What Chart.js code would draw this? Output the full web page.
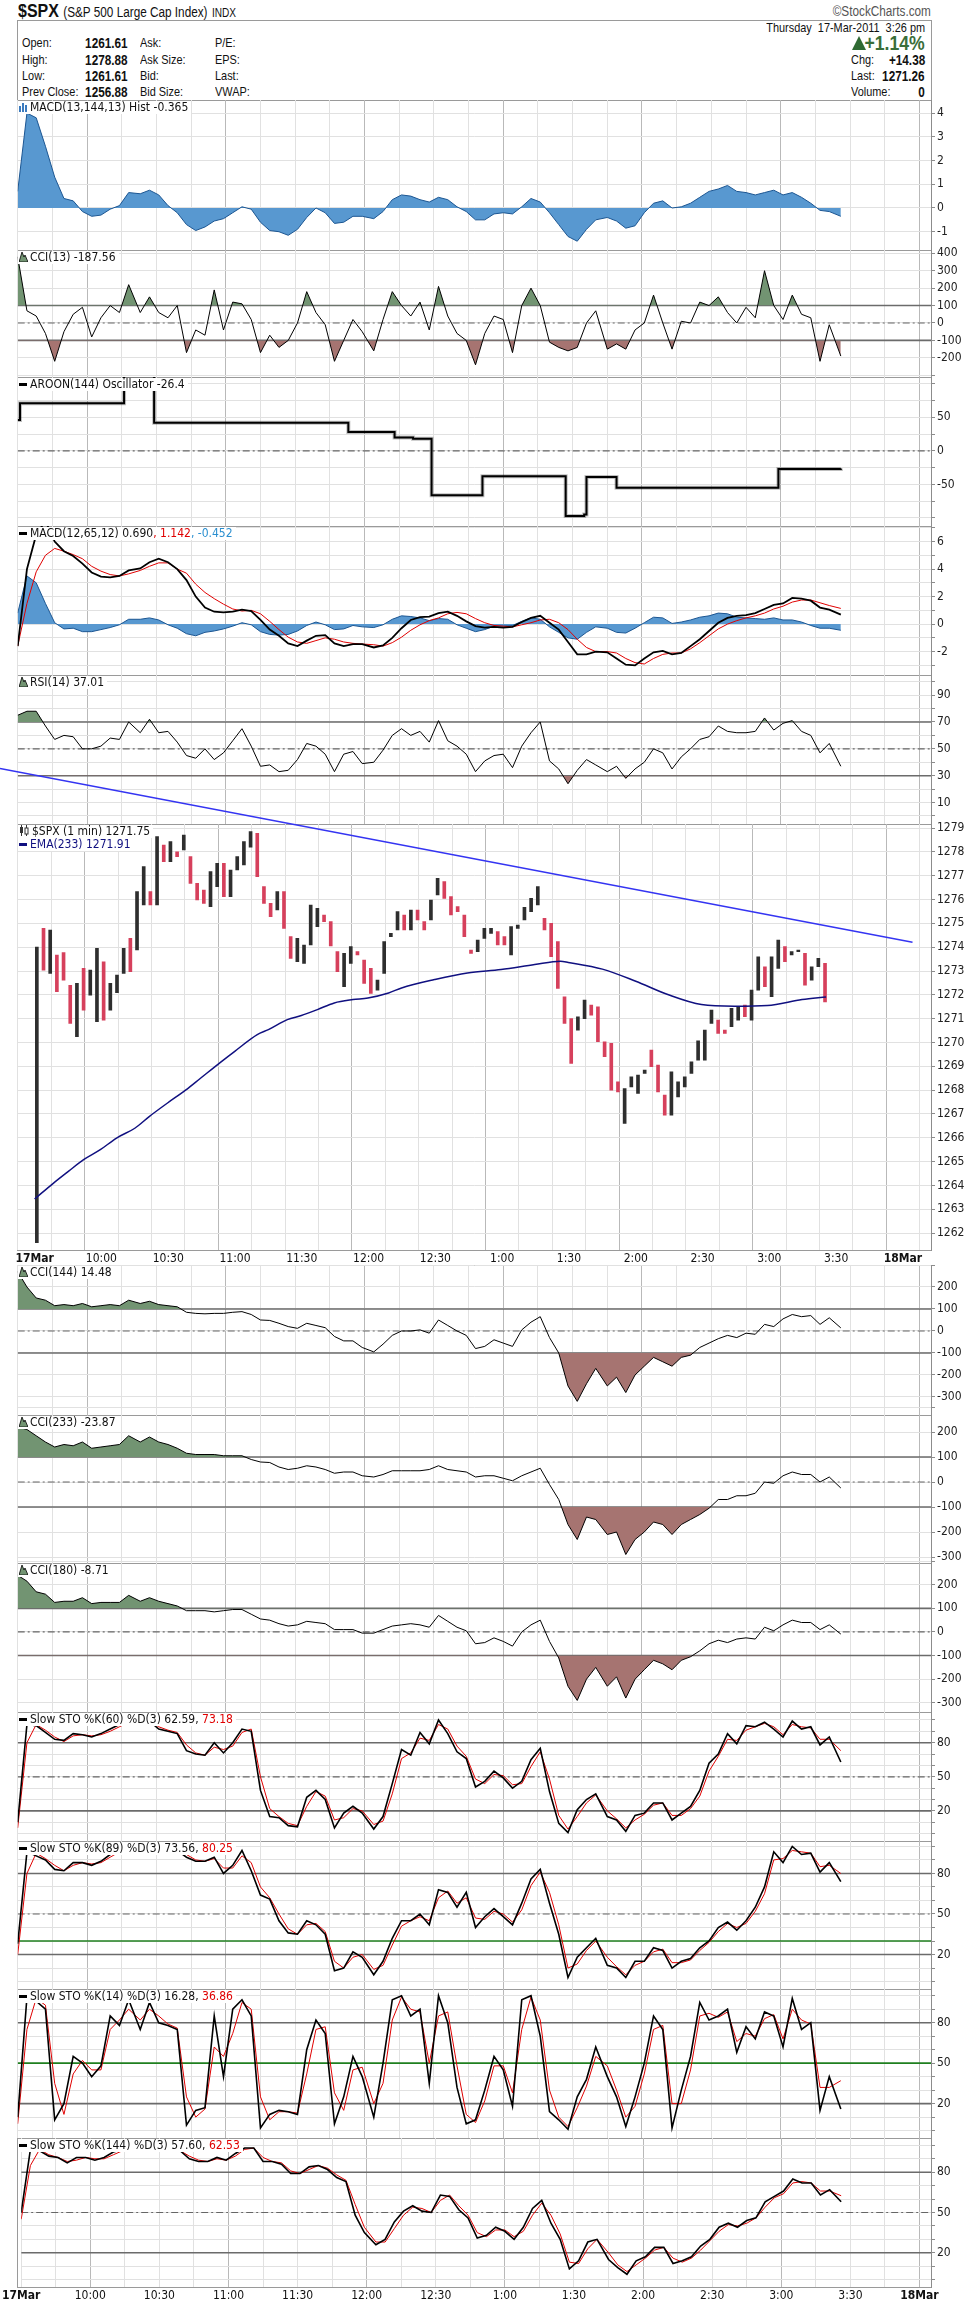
<!DOCTYPE html>
<html>
<head>
<meta charset="utf-8">
<script src="https://cdn.jsdelivr.net/npm/chart.js@4.4.1/dist/chart.umd.min.js"></script>
<style>
  body { margin:0; background:#fff; }
  #page { position:relative; width:975px; height:2306px; overflow:hidden; background:#fff;
          font-family:"DejaVu Sans Condensed",sans-serif; color:#111; }
  .frame { position:absolute; left:17px; width:915px; border:1px solid #9a9a9a; box-sizing:border-box; }
  canvas { position:absolute; left:0; }
  .t { position:absolute; white-space:nowrap; font-family:"Liberation Sans",Arial,sans-serif; font-size:13px; line-height:16px;
       transform:scaleX(0.84); transform-origin:left center; }
  .r { transform-origin:right center; }
  .v { font-weight:bold; font-size:14px; }
  .lbl { position:absolute; left:18px; font-size:12px; line-height:13px; background:#fff; padding:0 3px 0 1px; white-space:nowrap; }
  .dash { display:inline-block; width:8px; height:3px; background:#000; vertical-align:middle; margin-right:3px; }
  svg { vertical-align:-1px; margin-right:2px; }
</style>
</head>
<body>
<div id="page">
  <div class="t" style="left:18px;top:0px;font-size:19px;line-height:22px;font-weight:bold;">$SPX <span style="font-size:14px;font-weight:normal">(S&amp;P 500 Large Cap Index)</span> <span style="font-size:12px;font-weight:normal">INDX</span></div>
  <div class="t r" style="right:44px;top:3px;font-size:14px;color:#555">©StockCharts.com</div>
  <div class="frame" style="top:20px;height:81px"></div>

  <div class="t" style="left:22px;top:35px">Open:</div>
  <div class="t v r" style="right:847px;top:35px">1261.61</div>
  <div class="t" style="left:140px;top:35px">Ask:</div>
  <div class="t" style="left:215px;top:35px">P/E:</div>
  <div class="t" style="left:22px;top:52px">High:</div>
  <div class="t v r" style="right:847px;top:52px">1278.88</div>
  <div class="t" style="left:140px;top:52px">Ask Size:</div>
  <div class="t" style="left:215px;top:52px">EPS:</div>
  <div class="t" style="left:22px;top:68px">Low:</div>
  <div class="t v r" style="right:847px;top:68px">1261.61</div>
  <div class="t" style="left:140px;top:68px">Bid:</div>
  <div class="t" style="left:215px;top:68px">Last:</div>
  <div class="t" style="left:22px;top:84px">Prev Close:</div>
  <div class="t v r" style="right:847px;top:84px">1256.88</div>
  <div class="t" style="left:140px;top:84px">Bid Size:</div>
  <div class="t" style="left:215px;top:84px">VWAP:</div>

  <div class="t r" style="right:50px;top:20px">Thursday&nbsp; 17-Mar-2011&nbsp; 3:26 pm</div>
  <svg style="position:absolute;left:852px;top:36px" width="14" height="14"><polygon points="7,0 14,14 0,14" fill="#2f6a33"/></svg>
  <div class="t r" style="right:50px;top:32px;font-size:21px;line-height:22px;font-weight:bold;color:#3a6e3a">+1.14%</div>
  <div class="t" style="left:851px;top:52px">Chg:</div>
  <div class="t v r" style="right:50px;top:52px">+14.38</div>
  <div class="t" style="left:851px;top:68px">Last:</div>
  <div class="t v r" style="right:50px;top:68px">1271.26</div>
  <div class="t" style="left:851px;top:84px">Volume:</div>
  <div class="t v r" style="right:50px;top:84px">0</div>
</div>
<script>
// ---- time grid (minutes after 9:30) used by the oscillator panels ----
const tm = [0,4,8,12,16,20,24,28,32,36,40,44,48,53,57,61,65,69,73,77,81,85,89,93,97,101,105,109,113,117,
  121,125,129,133,137,141,145,149,154,158,162,166,170,174,178,182,186,190,194,198,202,206,210,214,218,222,226,230,234,238,
  242,246,250,255,259,263,267,271,275,279,283,287,291,295,299,303,307,311,315,319,323,327,331,335,339,343,347,351,356];

// MACD(13,144,13) histogram
const histV = [0.7,4.0,3.8,2.6,1.3,0.4,0.3,-0.15,-0.35,-0.3,
  -0.05,0.1,0.65,0.6,0.75,0.55,0.1,-0.2,-0.7,-0.95,
  -0.8,-0.55,-0.45,-0.2,0.05,-0.05,-0.6,-0.95,-1.0,-1.15,
  -0.9,-0.4,0.0,-0.2,-0.65,-0.6,-0.35,-0.35,-0.45,-0.15,
  0.35,0.55,0.5,0.35,0.25,0.45,0.35,0.05,-0.15,-0.5,
  -0.5,-0.25,-0.2,-0.25,0.05,0.4,0.25,-0.2,-0.7,-1.2,
  -1.4,-0.9,-0.5,-0.4,-0.55,-0.85,-0.75,-0.2,0.2,0.3,
  0.0,0.05,0.2,0.45,0.7,0.8,0.95,0.7,0.65,0.55,
  0.65,0.75,0.55,0.65,0.45,0.2,-0.1,-0.15,-0.35];

// CCI(13)
const cci13V = [380,70,40,-60,-220,-50,50,90,-80,30,
  100,60,220,60,150,60,30,100,-170,-40,
  -70,190,-40,120,110,20,-170,-70,-140,-100,
  0,180,60,-10,-220,-100,20,-50,-160,20,
  180,100,40,120,-40,210,40,-60,-100,-240,
  -60,40,20,-170,100,200,100,-110,-140,-160,
  -140,0,70,-150,-120,-150,-40,0,160,0,
  -150,10,0,120,100,150,60,0,90,30,
  300,100,20,160,50,30,-220,-10,-190];

// AROON(144) oscillator (step changes)
const aroonT = [0,1,46,59,143,163,171,179,201,237,245,246,259,329,356];
const aroonV = [46,71,112,42,28,20,18,-66,-38,-97,-95,-39,-55,-27,-26.4];

// MACD(12,65,12)
const macdV = [-1.6,4.0,6.5,7.5,6.0,5.3,4.95,4.4,3.75,3.45,
  3.4,3.5,3.9,4.05,4.5,4.75,4.5,4.0,3.2,2.0,
  1.2,0.9,0.85,0.9,1.05,0.95,0.3,-0.4,-0.85,-1.4,
  -1.6,-1.2,-0.85,-0.8,-1.4,-1.6,-1.45,-1.45,-1.7,-1.55,
  -1.0,-0.3,0.3,0.5,0.55,0.8,0.9,0.6,0.2,-0.15,
  -0.25,-0.2,-0.25,-0.2,0.15,0.45,0.6,0.1,-0.4,-1.3,
  -2.2,-2.2,-2.0,-2.05,-2.5,-2.95,-3.0,-2.5,-2.05,-1.95,
  -2.2,-2.1,-1.6,-1.1,-0.5,0.1,0.45,0.6,0.65,0.8,
  1.1,1.4,1.5,1.9,1.85,1.7,1.2,1.05,0.69];
const signalV = [-1.6,1.5,3.8,5.0,5.5,5.3,5.05,4.75,4.2,3.85,
  3.6,3.5,3.65,3.9,4.2,4.45,4.45,4.0,3.7,2.9,
  2.3,1.85,1.45,1.1,0.95,1.0,0.75,0.2,-0.4,-0.95,
  -1.3,-1.4,-1.2,-1.0,-1.1,-1.3,-1.4,-1.45,-1.5,-1.6,
  -1.35,-0.95,-0.45,-0.05,0.25,0.45,0.75,0.85,0.75,0.4,
  0.1,-0.1,-0.15,-0.2,-0.05,0.1,0.3,0.35,0.1,-0.4,
  -1.1,-1.7,-2.0,-2.0,-2.1,-2.5,-2.8,-2.9,-2.5,-2.2,
  -2.1,-2.1,-1.8,-1.35,-0.85,-0.35,0.0,0.25,0.45,0.6,
  0.8,1.1,1.3,1.6,1.75,1.75,1.55,1.35,1.14];
const macdHistV = [0.8,3.5,3.0,1.5,0.1,-0.35,-0.3,-0.55,-0.55,-0.4,
  -0.25,-0.05,0.35,0.35,0.45,0.3,-0.05,-0.3,-0.7,-0.85,
  -0.6,-0.5,-0.35,-0.15,0.1,-0.05,-0.55,-0.75,-0.8,-0.75,
  -0.5,-0.1,0.15,-0.05,-0.4,-0.35,-0.1,-0.2,-0.25,-0.05,
  0.35,0.6,0.55,0.45,0.25,0.4,0.35,-0.05,-0.3,-0.55,
  -0.4,-0.15,-0.15,-0.1,0.2,0.45,0.35,-0.2,-0.6,-1.0,
  -1.1,-0.6,-0.2,-0.3,-0.6,-0.65,-0.3,0.1,0.5,0.45,
  0.05,0.15,0.3,0.5,0.6,0.8,0.75,0.5,0.45,0.4,
  0.35,0.45,0.3,0.3,0.15,-0.1,-0.3,-0.3,-0.45];

// RSI(14)
const rsiV = [75,78,78,67,57,60,59,50,50,52,
  58,57,70,62,72,62,63,55,45,43,
  50,42,47,56,65,52,37,38,33,34,
  42,54,52,46,33,46,48,39,40,49,
  60,65,60,63,55,71,56,52,46,33,
  41,45,46,36,52,62,70,41,35,24,
  34,42,38,33,37,28,35,40,50,47,
  35,44,50,57,59,67,63,62,62,63,
  73,64,69,71,63,60,47,54,37];

// $SPX 1-min bars, read as 3-minute ranges
const priceT = [1,4,7,10,13,16,19,22,25,28,31,34,37,40,43,46,49,52,55,58,
  61,64,67,70,73,76,79,82,85,88,91,94,97,100,103,106,109,112,115,118,
  121,124,127,130,133,136,139,142,145,148,151,154,157,160,163,166,169,172,175,178,
  181,184,187,190,193,196,199,202,205,208,211,214,217,220,223,226,229,232,235,238,
  241,244,247,250,253,256,259,262,265,268,271,274,277,280,283,286,289,292,295,298,
  301,304,307,310,313,316,319,322,325,328,331,334,337,340,343,346,349,352,355];
const priceLow = [1261.6,1273.04,1272.9,1272.13,1272.62,1270.8,1270.24,1271.36,1271.99,1270.87,
  1270.94,1271.36,1272.09,1272.9,1272.97,1273.88,1275.77,1275.77,1275.77,1277.59,
  1277.59,1277.8,1278.08,1276.68,1275.98,1275.84,1275.7,1276.54,1276.12,1276.12,
  1277.24,1277.45,1278.2,1276.96,1275.84,1275.28,1275.56,1274.79,1273.53,1273.39,
  1273.32,1274.09,1274.86,1275.07,1274.05,1272.97,1272.34,1273.32,1273.67,1272.48,
  1272.06,1272.2,1272.9,1274.44,1274.72,1274.72,1274.72,1275.14,1274.72,1275.14,
  1276.19,1276.05,1275.35,1275.49,1274.44,1273.74,1273.81,1274.37,1274.58,1274.09,
  1274.09,1273.67,1274.79,1275.14,1275.49,1275.77,1274.72,1273.6,1272.27,1270.8,
  1269.12,1270.52,1271.0,1271.15,1270.03,1269.4,1268.0,1267.93,1266.6,1268.14,
  1267.86,1268.7,1268.98,1267.93,1266.95,1266.95,1267.72,1268.14,1268.7,1269.26,
  1269.26,1270.8,1270.38,1270.38,1270.66,1270.94,1271.08,1270.94,1272.2,1272.34,
  1271.92,1273.11,1273.39,1273.67,1273.81,1272.41,1272.62,1273.18,1271.7];
const priceHigh = [1274.0,1274.79,1274.72,1273.67,1273.77,1272.4,1272.48,1273.11,1273.04,1273.95,
  1273.39,1272.48,1272.83,1273.95,1274.37,1276.33,1277.38,1276.33,1278.64,1278.29,
  1278.43,1278.0,1278.71,1277.8,1276.68,1276.4,1277.17,1277.52,1277.52,1277.24,
  1277.8,1278.43,1278.85,1278.78,1276.54,1275.84,1276.33,1276.33,1274.44,1274.37,
  1274.09,1275.77,1275.63,1275.35,1275.07,1273.81,1273.74,1274.02,1273.81,1273.46,
  1273.11,1272.62,1274.23,1274.58,1275.49,1275.35,1275.56,1275.56,1275.07,1275.98,
  1276.89,1276.75,1276.12,1275.7,1275.35,1273.88,1274.3,1274.79,1274.79,1274.65,
  1274.44,1274.86,1274.93,1275.67,1276.05,1276.54,1275.21,1275.0,1274.23,1271.92,
  1271.0,1271.08,1271.78,1271.57,1271.5,1270.03,1269.96,1268.35,1268.07,1268.56,
  1268.63,1268.84,1269.68,1269.05,1267.79,1268.77,1268.35,1268.56,1269.19,1270.07,
  1270.52,1271.36,1270.94,1270.52,1271.43,1271.5,1271.57,1272.2,1273.6,1273.18,
  1273.6,1274.3,1274.02,1273.81,1273.88,1273.74,1273.18,1273.53,1273.32];
const priceUp = [1,0,1,0,0,0,1,0,1,1, 0,1,1,1,0,1,1,0,1,0, 1,0,1,0,0,0,1,1,0,1,
  1,1,1,0,0,0,1,0,0,1, 1,1,1,0,0,0,1,1,0,0, 0,1,1,1,1,0,1,0,0,1,
  1,0,0,0,0,0,1,1,1,0, 0,1,1,1,1,1,0,0,0,0, 0,1,1,0,0,0,0,0,1,1,
  1,1,0,0,0,1,1,1,1,1, 1,1,0,0,1,1,0,1,1,0, 1,1,0,1,1,0,1,1,0];

// EMA(233)
const emaT = [0,8.5,15.3,22,29.5,36.8,45,51.6,59.7,67.8,74.5,83.9,89.9,100,105,113.5,119.8,127,134.6,143,
  149.7,159,164.8,179.6,194.4,209.5,224.6,236.2,239.7,255,270,284.7,299.5,314.3,329.1,344.7,355.5];
const emaV = [1263.43,1264.1,1264.6,1265.08,1265.5,1265.99,1266.4,1266.9,1267.46,1268.0,1268.5,1269.2,1269.63,1270.33,1270.54,1270.96,1271.13,1271.38,1271.66,1271.8,
  1271.87,1272.08,1272.29,1272.64,1272.92,1273.06,1273.27,1273.41,1273.36,1273.08,1272.57,1272.0,1271.59,1271.52,1271.55,1271.8,1271.91];

// hand-drawn trend line (ends)
const trendT = [-7.66, 387];
const trendV = [1281.5, 1274.21];

// CCI(144), CCI(233), CCI(180)
const cci144V = [270,200,150,140,115,120,115,125,110,115,
  120,115,140,125,135,120,115,110,85,80,
  78,80,80,85,88,75,50,48,35,20,
  12,35,25,15,-25,-45,-45,-75,-95,-60,
  -20,0,0,5,-10,50,25,0,-20,-80,
  -70,-40,-55,-70,5,40,65,-30,-100,-250,
  -320,-240,-170,-250,-210,-280,-200,-160,-120,-140,
  -160,-120,-110,-75,-55,-35,-20,-30,-10,-15,
  30,20,55,75,65,70,30,60,14];
const cci233V = [220,210,185,160,140,150,145,160,135,140,
  145,150,185,160,180,160,150,135,115,110,
  110,110,105,105,105,90,80,78,60,50,
  55,65,60,50,35,40,40,25,20,30,
  45,45,45,45,50,65,50,45,40,20,
  25,25,15,5,25,40,55,-10,-70,-170,
  -230,-140,-150,-210,-200,-290,-230,-200,-160,-170,
  -210,-170,-150,-130,-105,-70,-70,-55,-55,-45,
  0,-5,25,40,30,30,0,20,-24];
const cci180V = [240,215,170,160,125,130,130,145,120,125,
  125,125,155,130,145,130,120,110,90,90,
  90,85,90,95,95,75,55,50,35,25,
  30,45,40,35,10,10,10,-5,-5,10,
  25,30,35,30,20,70,45,20,5,-50,
  -45,-25,-40,-60,0,30,50,-40,-110,-230,
  -290,-200,-150,-230,-190,-280,-200,-160,-120,-135,
  -160,-120,-105,-80,-50,-35,-45,-30,-25,-30,
  20,5,30,50,40,40,10,30,-9];

// Slow stochastics (%K black, %D red)
const sto60K = [10,96,95,89,83,82,88,87,85,88, 92,96,99,100,99,92,90,88,73,70,
  69,80,71,80,92,90,38,15,14,7, 6,32,38,30,5,18,24,18,4,15,
  44,74,69,89,79,100,88,72,66,41, 46,55,49,40,46,65,75,37,9,1,
  21,30,35,15,12,2,16,18,27,27, 12,18,24,38,62,70,88,79,95,94,
  98,92,85,99,92,94,78,85,63];
const sto60D = [5,80,96,91,85,81,86,87,86,87, 90,94,98,99,99,94,91,89,78,71,
  69,76,74,77,89,92,50,22,15,9, 7,24,37,33,12,14,22,20,8,11,
  35,66,71,84,82,96,92,77,68,48, 44,52,51,43,44,59,72,48,16,4,
  15,27,34,20,13,5,12,17,25,27, 16,16,22,33,55,68,83,82,91,94,
  97,94,87,96,94,93,83,83,73];
const sto89K = [28,96,93,90,83,82,88,88,86,89, 94,98,100,100,99,99,99,97,92,89,
  89,92,80,86,97,82,64,61,45,36, 35,45,42,35,8,10,22,18,5,15,
  32,45,45,50,42,68,66,55,66,40, 48,54,48,42,58,76,83,58,35,3,
  18,25,32,12,10,3,15,15,25,23, 10,15,17,25,30,40,44,38,45,55,
  70,96,88,100,94,95,81,88,74];
const sto89D = [20,80,95,91,86,82,86,88,87,88, 92,96,99,100,99,99,99,98,94,90,
  89,91,84,84,93,88,70,62,50,39, 35,42,43,37,15,10,18,20,9,12,
  27,41,45,48,45,62,67,58,62,47, 46,52,50,44,53,71,81,66,42,10,
  13,23,30,18,11,5,12,15,22,24, 14,14,16,23,29,37,43,40,43,52,
  65,90,91,97,96,95,85,86,80];
const sto14K = [10,99,96,90,8,20,55,50,40,48, 85,78,97,75,95,80,78,75,4,15,
  17,85,40,90,97,85,2,12,15,14, 12,60,82,72,5,25,55,40,10,50,
  97,100,85,90,35,100,80,32,5,8, 30,55,45,18,97,100,70,14,8,1,
  25,38,62,40,25,3,25,50,85,75, 2,30,55,95,82,85,90,58,77,68,
  88,85,62,98,75,80,15,40,16];
const sto14D = [5,75,98,93,35,12,42,52,45,45, 75,82,90,82,90,85,79,76,25,10,
  16,62,55,72,95,90,25,8,14,14, 13,42,75,77,28,15,45,47,20,35,
  82,99,90,88,50,85,88,48,12,6, 22,48,48,28,75,99,82,30,10,3,
  17,33,55,48,30,10,18,42,75,78, 20,20,45,85,87,84,88,66,72,70,
  83,86,68,90,82,79,32,32,37];
const sto144K = [50,97,96,92,91,87,91,91,89,91, 95,97,98,98,98,97,97,96,90,88,
  88,91,89,94,98,98,88,88,86,79, 79,84,85,82,76,73,48,35,26,30,
  43,51,55,51,50,63,62,52,46,31, 33,39,36,30,39,53,59,42,30,8,
  14,28,30,15,9,4,14,17,24,24, 12,14,17,25,30,39,42,39,44,46,
  58,62,66,75,72,72,63,67,58];
const sto144D = [45,85,97,93,91,88,89,91,90,90, 93,96,98,98,98,97,97,96,92,89,
  88,90,89,92,97,98,91,88,87,81, 79,82,85,83,78,74,56,39,28,28,
  38,48,54,53,50,59,63,55,48,35, 32,37,37,32,36,48,57,48,34,13,
  12,23,30,20,11,6,11,16,22,24, 16,13,16,22,29,36,41,40,42,46,
  54,61,64,72,73,72,66,66,62.5];

// reference levels
const cciBands = [100, -100];
const rsiBands = [70, 30];
const stoBands = [80, 20];

// ---------------------------------------------------------------
const FONT = '"DejaVu Sans Condensed","Liberation Sans",sans-serif';
Chart.defaults.font.family = FONT;
const page = document.getElementById('page');
const W = 975, PLOT_L = 17.7, AXIS_W = 44, PAD = 10, XMAX = 395;
const GREEN = 'rgb(114,148,114)', BROWN = 'rgb(166,116,113)', NONE = 'rgba(0,0,0,0)';
const HIST_FILL = 'rgb(88,152,208)', HIST_EDGE = 'rgb(28,86,146)';

const pts = (t, v) => t.map((x, i) => ({x: x, y: v[i]}));
const steps = (a, b, s) => { const r = []; for (let v = a; v <= b + 1e-9; v += s) r.push(+v.toFixed(4)); return r; };

function line(t, v, color, width, extra) {
  return Object.assign({type: 'line', data: pts(t, v), borderColor: color, borderWidth: width,
    pointRadius: 0, fill: false, tension: 0, order: 1}, extra || {});
}
function level(v, color, width, dash) {
  return {type: 'line', data: [{x: 0, y: v}, {x: XMAX, y: v}], borderColor: color, borderWidth: width,
    borderDash: dash || [], pointRadius: 0, fill: false, order: 10};
}
function band(t, v, limit, up, color) {
  return {type: 'line', data: pts(t, v), borderColor: NONE, borderWidth: 0, pointRadius: 0, order: 5,
    fill: {target: {value: limit}, above: up ? color : NONE, below: up ? NONE : color}};
}
const dashDot = [7, 3, 2, 3];

function timeLabel(v) {
  if (v % 30 !== 0) return '';
  if (v === 0) return '17Mar';
  if (v === 390) return '18Mar';
  const t = 570 + v, h = Math.floor(t / 60), m = t % 60;
  return (h > 12 ? h - 12 : h) + ':' + (m < 10 ? '0' : '') + m;
}

function panel(o) {
  const padTop = o.padTop || PAD;
  const xh = o.xLabels ? 16 : 0;
  const f = document.createElement('div');
  f.className = 'frame';
  f.style.top = o.top + 'px';
  f.style.height = (o.bottom - o.top + 1) + 'px';
  page.appendChild(f);
  const c = document.createElement('canvas');
  c.width = W;
  c.height = (o.bottom - o.top) + padTop + PAD + xh;
  c.style.top = (o.top - padTop) + 'px';
  page.appendChild(c);
  new Chart(c, {
    type: 'line',
    data: {datasets: o.datasets},
    options: {
      responsive: false, animation: false, events: [], devicePixelRatio: 1,
      layout: {autoPadding: false, padding: {left: PLOT_L, right: 0, top: padTop, bottom: PAD}},
      plugins: {legend: {display: false}, tooltip: {enabled: false}},
      scales: {
        x: {
          type: 'linear', min: 0, max: XMAX,
          afterBuildTicks: s => { s.ticks = steps(0, 390, 15).map(v => ({value: v})); },
          afterFit: s => { s.height = xh; },
          border: {display: false},
          grid: {drawTicks: false, color: ctx => (ctx.tick && ctx.tick.value % 60 === 30) ? '#b9b9b9' : '#e1e1e1'},
          ticks: {display: !!o.xLabels, autoSkip: false, maxRotation: 0, padding: 2, color: '#111',
            callback: v => timeLabel(v),
            font: ctx => ({family: FONT, size: 12, weight: (ctx.tick && (ctx.tick.value === 0 || ctx.tick.value === 390)) ? 'bold' : 'normal'})}
        },
        y: {
          type: 'linear', position: 'right', min: o.min, max: o.max,
          afterBuildTicks: s => { s.ticks = o.grid.map(v => ({value: v})); },
          afterFit: s => { s.width = AXIS_W; },
          border: {color: '#8c8c8c'},
          grid: {color: '#e1e1e1', tickLength: 4, tickColor: '#8c8c8c'},
          ticks: {autoSkip: false, padding: 2, color: '#222', font: {family: FONT, size: 12},
            callback: v => o.labels.includes(v) ? String(v) : ''}
        }
      }
    }
  });
}

// transparent overlay whose x scale starts at the left page edge, for the drawn trend line
function overlay(top, bottom, padTop, min, max, datasets) {
  const c = document.createElement('canvas');
  c.width = W;
  c.height = (bottom - top) + padTop + PAD;
  c.style.top = (top - padTop) + 'px';
  page.appendChild(c);
  new Chart(c, {
    type: 'line',
    data: {datasets: datasets},
    options: {
      responsive: false, animation: false, events: [], devicePixelRatio: 1,
      layout: {autoPadding: false, padding: {left: 0, right: AXIS_W, top: padTop, bottom: PAD}},
      plugins: {legend: {display: false}, tooltip: {enabled: false}},
      scales: {
        x: {type: 'linear', display: false, min: -PLOT_L * XMAX / (W - AXIS_W - PLOT_L), max: XMAX},
        y: {type: 'linear', display: false, min: min, max: max}
      }
    }
  });
}

function label(top, html) {
  const d = document.createElement('div');
  d.className = 'lbl';
  d.style.top = top + 'px';
  d.innerHTML = html;
  page.appendChild(d);
}
const icoHist = '<svg width="9" height="10"><rect x="0" y="4" width="2" height="6" fill="#3b7bbf"/><rect x="3" y="1" width="2" height="9" fill="#3b7bbf"/><rect x="6" y="3" width="2" height="7" fill="#3b7bbf"/></svg>';
const icoMtn = '<svg width="9" height="11"><polygon points="0,11 3,1 5,6 6,4 9,11" fill="' + GREEN + '" stroke="#000" stroke-width="0.8"/></svg>';
const icoCandle = '<svg width="11" height="11"><rect x="1" y="2" width="3" height="6" fill="#333"/><line x1="2.5" y1="0" x2="2.5" y2="11" stroke="#333"/><rect x="6" y="3" width="3" height="6" fill="#fff" stroke="#333"/><line x1="7.5" y1="0" x2="7.5" y2="3" stroke="#333"/><line x1="7.5" y1="9" x2="7.5" y2="11" stroke="#333"/></svg>';
const icoDash = c => '<span class="dash" style="background:' + (c || '#000') + '"></span>';

function cciPanel(top, bottom, min, max, v) {
  panel({top: top, bottom: bottom, min: min, max: max,
    grid: steps(-300, 300, 100), labels: [200, 100, 0, -100, -200, -300],
    datasets: [
      level(cciBands[0], '#6b6b6b', 1.6), level(cciBands[1], '#6b6b6b', 1.6), level(0, '#666', 1.2, dashDot),
      band(tm, v, cciBands[0], true, GREEN), band(tm, v, cciBands[1], false, BROWN),
      line(tm, v, '#000', 1)
    ]});
}
function stoPanel(top, bottom, min, max, k, d, extra) {
  const ds = [level(stoBands[0], '#6b6b6b', 1.6), level(stoBands[1], '#6b6b6b', 1.6)];
  if (extra) ds.push(...extra); else ds.push(level(50, '#666', 1.2, dashDot));
  ds.push(line(tm, d, '#e00000', 1), line(tm, k, '#000', 1.6, {order: 0}));
  panel({top: top, bottom: bottom, min: min, max: max, xLabels: bottom > 2200,
    grid: steps(0, 100, 10), labels: [80, 50, 20], datasets: ds});
}

// MACD(13,144,13) histogram
panel({top: 100, bottom: 250, min: -1.77, max: 4.55, grid: steps(-1, 4, 1), labels: [-1, 0, 1, 2, 3, 4],
  datasets: [line(tm, histV, HIST_EDGE, 1, {fill: 'origin', backgroundColor: HIST_FILL})]});

// CCI(13)
panel({top: 250, bottom: 377, min: -310, max: 419, grid: steps(-300, 400, 100), labels: [400, 300, 200, 100, 0, -100, -200],
  datasets: [
    level(cciBands[0], '#6b6b6b', 1.6), level(cciBands[1], '#6b6b6b', 1.6), level(0, '#666', 1.2, dashDot),
    band(tm, cci13V, cciBands[0], true, GREEN), band(tm, cci13V, cciBands[1], false, BROWN),
    line(tm, cci13V, '#000', 1)
  ]});

// AROON oscillator
panel({top: 377, bottom: 526, min: -112, max: 110, grid: steps(-100, 100, 25), labels: [50, 0, -50],
  datasets: [level(0, '#666', 1.2, dashDot),
    line(aroonT, aroonV, 'rgba(0,0,0,0.25)', 4, {stepped: 'before', order: 2}),
    line(aroonT, aroonV, '#000', 2, {stepped: 'before'})]});

// MACD(12,65,12)
panel({top: 526, bottom: 675, min: -3.7, max: 7.13, grid: steps(-3, 7, 1), labels: [6, 4, 2, 0, -2],
  datasets: [
    line(tm, macdHistV, HIST_EDGE, 1, {fill: 'origin', backgroundColor: HIST_FILL, order: 3}),
    line(tm, signalV, '#e00000', 1, {order: 1}),
    line(tm, macdV, '#000', 1.8, {order: 0})
  ]});

// RSI(14)
panel({top: 675, bottom: 824, min: -6, max: 105, grid: steps(0, 100, 10), labels: [90, 70, 50, 30, 10],
  datasets: [
    level(rsiBands[0], '#6b6b6b', 1.6), level(rsiBands[1], '#6b6b6b', 1.6), level(50, '#666', 1.2, dashDot),
    band(tm, rsiV, rsiBands[0], true, GREEN), band(tm, rsiV, rsiBands[1], false, BROWN),
    line(tm, rsiV, '#000', 1)
  ]});

// Price
const PRICE_MIN = 1261.29, PRICE_MAX = 1279.17;
panel({top: 824, bottom: 1250, xLabels: true, min: PRICE_MIN, max: PRICE_MAX,
  grid: steps(1262, 1279, 1), labels: steps(1262, 1279, 1),
  datasets: [
    {type: 'bar', data: priceT.map((t, i) => ({x: t, y: [priceLow[i], priceHigh[i]]})),
      backgroundColor: priceUp.map(u => u ? '#2e2e2e' : '#d6405c'), barThickness: 3, order: 3},
    line(emaT, emaV, '#101080', 1.5, {tension: 0.4, cubicInterpolationMode: 'monotone', order: 1})
  ]});
overlay(824, 1250, 64, PRICE_MIN, PRICE_MAX,
  [line(trendT, trendV, '#3434f2', 1.5, {clip: false})]);

cciPanel(1265, 1415, -382, 300, cci144V);
cciPanel(1415, 1563, -324, 268, cci233V);
cciPanel(1563, 1712, -339, 292, cci180V);

stoPanel(1712, 1841, -6.5, 107, sto60K, sto60D);
stoPanel(1841, 1989, -5.5, 104, sto89K, sto89D, [level(50, '#666', 1.2, dashDot), level(30, '#1f7f1f', 1.6)]);
stoPanel(1989, 2138, -5.5, 105, sto14K, sto14D, [level(50, '#1f7f1f', 1.6)]);
stoPanel(2138, 2287, -5.5, 105.5, sto144K, sto144D);

// panel captions
label(101, icoHist + 'MACD(13,144,13) Hist -0.365');
label(251, icoMtn + 'CCI(13) -187.56');
label(378, icoDash() + 'AROON(144) Oscillator -26.4');
label(527, icoDash() + 'MACD(12,65,12) 0.690<span style="color:#e00000">, 1.142</span><span style="color:#2a8fd0">, -0.452</span>');
label(676, icoMtn + 'RSI(14) 37.01');
label(825, icoCandle + '$SPX (1 min) 1271.75');
label(838, '<span style="color:#101080">' + icoDash('#101080') + 'EMA(233) 1271.91</span>');
label(1266, icoMtn + 'CCI(144) 14.48');
label(1416, icoMtn + 'CCI(233) -23.87');
label(1564, icoMtn + 'CCI(180) -8.71');
label(1713, icoDash() + 'Slow STO %K(60) %D(3) 62.59, <span style="color:#e00000">73.18</span>');
label(1842, icoDash() + 'Slow STO %K(89) %D(3) 73.56, <span style="color:#e00000">80.25</span>');
label(1990, icoDash() + 'Slow STO %K(14) %D(3) 16.28, <span style="color:#e00000">36.86</span>');
label(2139, icoDash() + 'Slow STO %K(144) %D(3) 57.60, <span style="color:#e00000">62.53</span>');
</script>
</body>
</html>
